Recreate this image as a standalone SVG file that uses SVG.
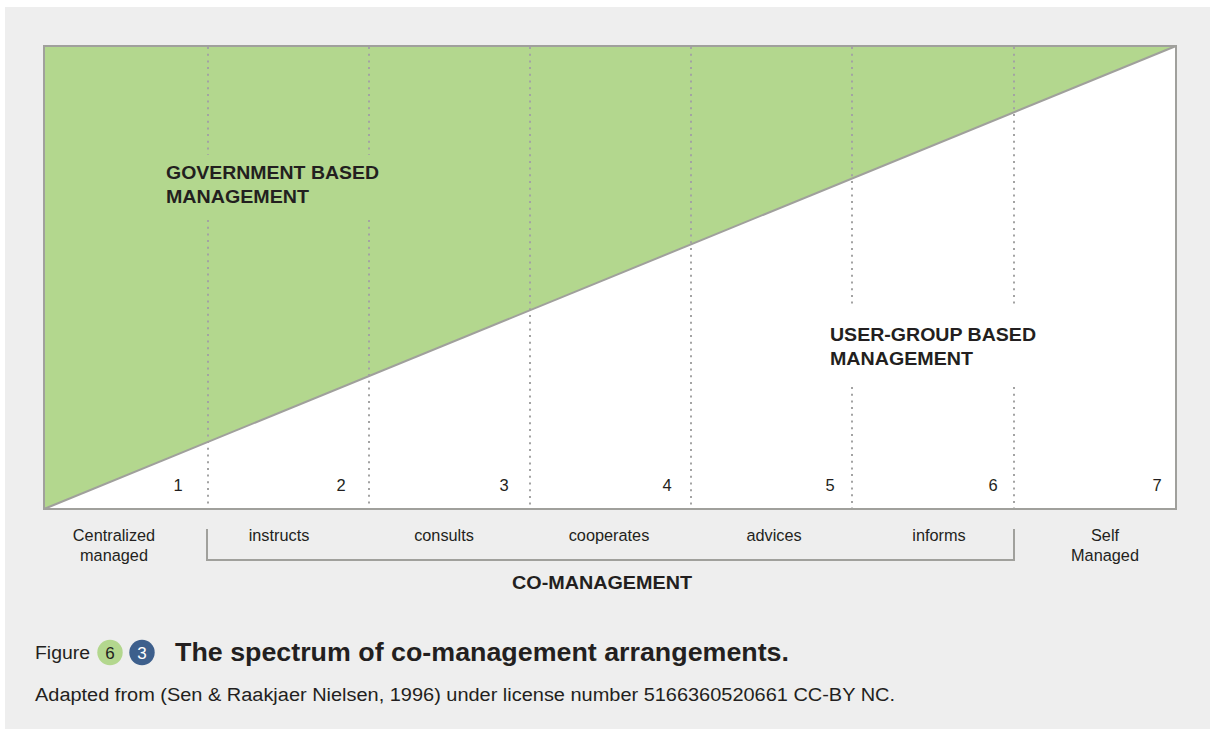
<svg xmlns="http://www.w3.org/2000/svg" width="1210" height="729" viewBox="0 0 1210 729">
<style>
.t{font-family:"Liberation Sans",Arial,sans-serif;fill:#231f20}
.num{font-size:16.5px;text-anchor:middle}
.lab{font-size:16.3px;text-anchor:middle}
.big{font-size:18.6px;font-weight:bold}
.dot{stroke:#a3a3a3;stroke-width:2;stroke-dasharray:2 4.7;fill:none}
</style>
<rect x="5" y="7" width="1205" height="722" fill="#eeeeee"/>
<g id="chart">
<rect x="44" y="46" width="1132" height="463" fill="#ffffff"/>
<polygon points="44,46 1176,46 44,509" fill="#b3d78e"/>
</g>
<g id="dividers">
<line class="dot" x1="208" y1="47" x2="208" y2="155"/>
<line class="dot" x1="208" y1="220" x2="208" y2="508"/>
<line class="dot" x1="369" y1="47" x2="369" y2="155"/>
<line class="dot" x1="369" y1="220" x2="369" y2="508"/>
<line class="dot" x1="530" y1="47" x2="530" y2="508"/>
<line class="dot" x1="691" y1="47" x2="691" y2="508"/>
<line class="dot" x1="852" y1="47" x2="852" y2="308"/>
<line class="dot" x1="852" y1="387" x2="852" y2="508"/>
<line class="dot" x1="1014" y1="47" x2="1014" y2="308"/>
<line class="dot" x1="1014" y1="387" x2="1014" y2="508"/>
</g>
<g id="frame" fill="none" stroke="#a0a09c" stroke-width="2">
<line x1="44" y1="509" x2="1176" y2="46"/>
<rect x="44" y="46" width="1132" height="463"/>
</g>
<g id="gov"><text class="t big" x="166" y="179" textLength="213" lengthAdjust="spacingAndGlyphs">GOVERNMENT BASED</text><text class="t big" x="166" y="203" textLength="143" lengthAdjust="spacingAndGlyphs">MANAGEMENT</text></g>
<g id="user"><text class="t big" x="830" y="341" textLength="206" lengthAdjust="spacingAndGlyphs">USER-GROUP BASED</text><text class="t big" x="830" y="365" textLength="143" lengthAdjust="spacingAndGlyphs">MANAGEMENT</text></g>
<g id="numbers">
<text class="t num" x="178" y="491">1</text>
<text class="t num" x="341" y="491">2</text>
<text class="t num" x="504" y="491">3</text>
<text class="t num" x="667" y="491">4</text>
<text class="t num" x="830" y="491">5</text>
<text class="t num" x="993" y="491">6</text>
<text class="t num" x="1157" y="491">7</text>
</g>
<g id="labels">
<text class="t lab" x="114" y="540.5">Centralized</text>
<text class="t lab" x="114" y="560.5">managed</text>
<text class="t lab" x="279" y="540.5">instructs</text>
<text class="t lab" x="444" y="540.5">consults</text>
<text class="t lab" x="609" y="540.5">cooperates</text>
<text class="t lab" x="774" y="540.5">advices</text>
<text class="t lab" x="939" y="540.5">informs</text>
<text class="t lab" x="1105" y="540.5">Self</text>
<text class="t lab" x="1105" y="560.5">Managed</text>
</g>
<g id="bracket">
<polyline points="207,529 207,560 1014,560 1014,529" fill="none" stroke="#a0a09c" stroke-width="2"/>
<text class="t" x="512" y="589" font-size="19" font-weight="bold" textLength="180" lengthAdjust="spacingAndGlyphs">CO-MANAGEMENT</text>
</g>
<g id="caption">
<text class="t" x="35" y="659" font-size="18" textLength="55" lengthAdjust="spacingAndGlyphs">Figure</text>
<circle cx="110" cy="652.5" r="12.7" fill="#b3d78e"/>
<text class="t" x="110" y="658.5" font-size="17" text-anchor="middle">6</text>
<circle cx="142" cy="652.5" r="12.7" fill="#3d5f8c"/>
<text x="142" y="658.5" font-size="17" text-anchor="middle" font-family="Liberation Sans,Arial,sans-serif" fill="#ffffff">3</text>
<text class="t" x="175" y="661" font-size="25" font-weight="bold" textLength="614" lengthAdjust="spacingAndGlyphs">The spectrum of co-management arrangements.</text>
<text class="t" x="35" y="701" font-size="18" textLength="860" lengthAdjust="spacingAndGlyphs">Adapted from (Sen &amp; Raakjaer Nielsen, 1996) under license number 5166360520661 CC-BY NC.</text>
</g>
</svg>
